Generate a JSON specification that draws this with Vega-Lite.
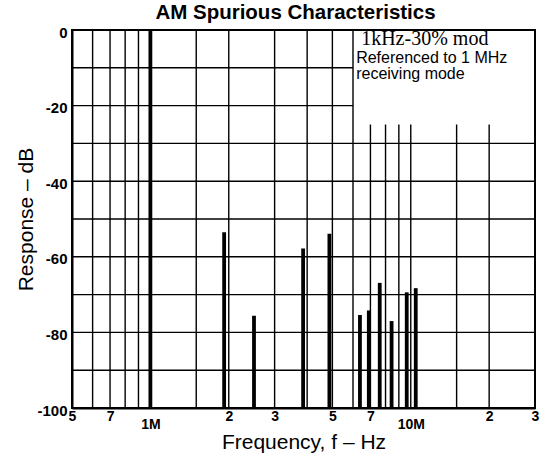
{
  "$schema": "https://vega.github.io/schema/vega-lite/v6.json",
  "width": 463,
  "height": 378,
  "autosize": "none",
  "padding": {"left": 72, "top": 30, "right": 9, "bottom": 47},
  "background": "white",
  "title": {
    "text": "AM Spurious Characteristics",
    "font": "Liberation Sans",
    "fontSize": 20.5,
    "fontWeight": "bold",
    "color": "black",
    "anchor": "middle",
    "frame": "group",
    "dx": -8,
    "dy": 22,
    "baseline": "bottom",
    "offset": 4
  },
  "config": {"view": {"stroke": "black", "strokeWidth": 2}},
  "datasets": {
    "hgrid": [
      {"db": -10, "f": 500000, "f2": 6000000},
      {"db": -20, "f": 500000, "f2": 6000000},
      {"db": -30, "f": 500000, "f2": 30000000},
      {"db": -40, "f": 500000, "f2": 30000000},
      {"db": -50, "f": 500000, "f2": 30000000},
      {"db": -60, "f": 500000, "f2": 30000000},
      {"db": -70, "f": 500000, "f2": 30000000},
      {"db": -80, "f": 500000, "f2": 30000000},
      {"db": -90, "f": 500000, "f2": 30000000}
    ],
    "vgrid": [
      {"f": 600000, "db": 0},
      {"f": 700000, "db": 0},
      {"f": 800000, "db": 0},
      {"f": 900000, "db": 0},
      {"f": 1000000, "db": 0},
      {"f": 1500000, "db": 0},
      {"f": 2000000, "db": 0},
      {"f": 3000000, "db": 0},
      {"f": 4000000, "db": 0},
      {"f": 5000000, "db": 0},
      {"f": 6000000, "db": 0},
      {"f": 7000000, "db": -25},
      {"f": 8000000, "db": -25},
      {"f": 9000000, "db": -25},
      {"f": 10000000, "db": -25},
      {"f": 15000000, "db": -25},
      {"f": 20000000, "db": -25}
    ],
    "spikes": [
      {"f": 1000000, "db": 0},
      {"f": 1920000, "db": -53.5},
      {"f": 2500000, "db": -75.6},
      {"f": 3860000, "db": -57.8},
      {"f": 4870000, "db": -53.9},
      {"f": 6380000, "db": -75.4},
      {"f": 6900000, "db": -74.2},
      {"f": 7600000, "db": -66.9},
      {"f": 8440000, "db": -77},
      {"f": 9650000, "db": -69.4},
      {"f": 10450000, "db": -68.3}
    ]
  },
  "layer": [
    {
      "data": {"name": "hgrid"},
      "mark": {"type": "rule", "color": "black", "strokeWidth": 1.4},
      "encoding": {
        "x": {
          "field": "f",
          "type": "quantitative",
          "scale": {"type": "log", "domain": [500000, 30000000], "nice": false},
          "axis": {
            "title": "Frequency, f – Hz",
            "values": [500000, 700000, 1000000, 2000000, 3000000, 5000000, 7000000, 10000000, 20000000, 30000000],
            "labelExpr": "datum.value == 1000000 ? '1M' : datum.value == 10000000 ? '10M' : slice(toString(datum.value), 0, 1)",
            "grid": false,
            "ticks": false,
            "domain": true,
            "domainColor": "black",
            "domainWidth": 2,
            "labelFont": "Liberation Sans",
            "labelFontSize": 14,
            "labelFontWeight": "bold",
            "labelColor": "black",
            "labelPadding": {"condition": {"test": "datum.value == 1000000 || datum.value == 10000000", "value": 9}, "value": 1},
            "labelFlush": false,
            "labelOverlap": false,
            "labelBound": false,
            "titleFont": "Liberation Sans",
            "titleFontSize": 21,
            "titleFontWeight": "normal",
            "titleColor": "black",
            "titlePadding": 0
          }
        },
        "x2": {"field": "f2"},
        "y": {
          "field": "db",
          "type": "quantitative",
          "scale": {"domain": [-100, 0], "nice": false},
          "axis": {
            "title": "Response – dB",
            "values": [0, -20, -40, -60, -80, -100],
            "labelExpr": "toString(datum.value)",
            "grid": false,
            "ticks": false,
            "domain": true,
            "domainColor": "black",
            "domainWidth": 2,
            "labelFont": "Liberation Sans",
            "labelFontSize": 15,
            "labelFontWeight": "bold",
            "labelColor": "black",
            "labelPadding": 5,
            "labelOffset": 2,
            "labelFlush": false,
            "labelOverlap": false,
            "labelBound": false,
            "titleFont": "Liberation Sans",
            "titleFontSize": 21,
            "titleFontWeight": "normal",
            "titleColor": "black",
            "titlePadding": 0
          }
        }
      }
    },
    {
      "data": {"name": "vgrid"},
      "mark": {"type": "rule", "color": "black", "strokeWidth": 1.4},
      "encoding": {
        "x": {"field": "f", "type": "quantitative"},
        "y": {"field": "db", "type": "quantitative"},
        "y2": {"datum": -100}
      }
    },
    {
      "data": {"name": "spikes"},
      "mark": {"type": "rule", "color": "black", "strokeWidth": 3.8},
      "encoding": {
        "x": {"field": "f", "type": "quantitative"},
        "y": {"field": "db", "type": "quantitative"},
        "y2": {"datum": -100}
      }
    },
    {
      "data": {"values": [{}]},
      "mark": {"type": "text", "font": "Liberation Serif", "fontSize": 20, "color": "black", "align": "left", "baseline": "alphabetic"},
      "encoding": {
        "x": {"datum": 6450000, "type": "quantitative"},
        "y": {"datum": -4, "type": "quantitative"},
        "text": {"value": "1kHz-30% mod"}
      }
    },
    {
      "data": {"values": [{}]},
      "mark": {"type": "text", "font": "Liberation Sans", "fontSize": 16, "lineHeight": 16.5, "color": "black", "align": "left", "baseline": "alphabetic"},
      "encoding": {
        "x": {"datum": 6170000, "type": "quantitative"},
        "y": {"datum": -8.6, "type": "quantitative"},
        "text": {"value": ["Referenced to 1 MHz", "receiving mode"]}
      }
    }
  ]
}
